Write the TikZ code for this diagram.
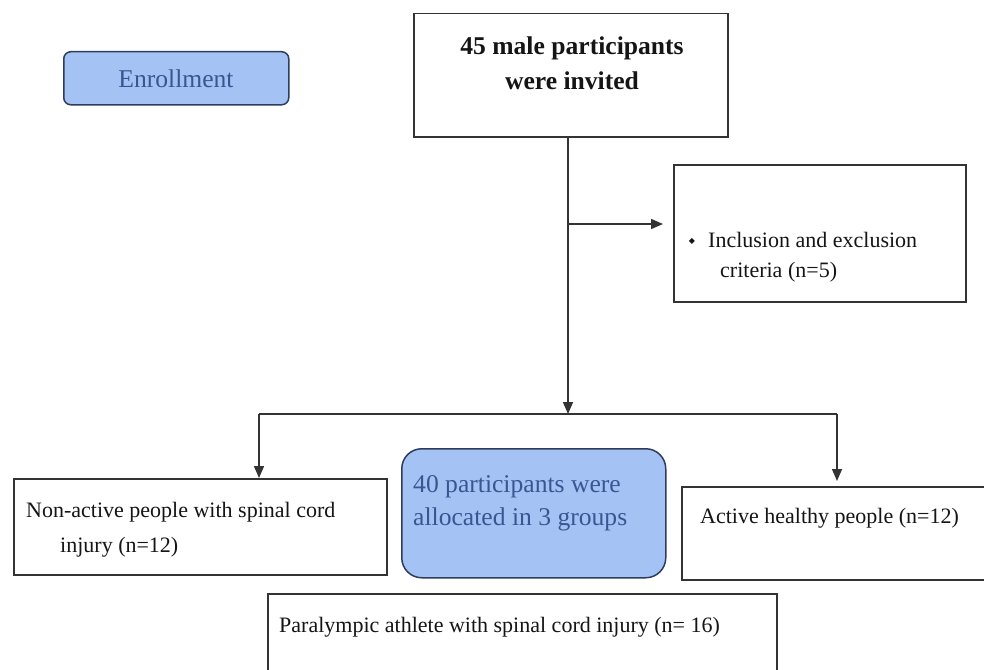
\documentclass[tikz,border=0pt]{standalone}
\usepackage{fontspec}
\setmainfont{Liberation Serif}
\newfontfamily\symfont{DejaVu Sans}
\usetikzlibrary{arrows.meta}
\definecolor{linec}{HTML}{333333}
\definecolor{bluefill}{HTML}{A4C2F4}
\definecolor{blueedge}{HTML}{2F3D5C}
\definecolor{bluetext}{HTML}{3B5592}
\definecolor{txt}{HTML}{151515}
\begin{document}
\begin{tikzpicture}[x=1pt,y=-1pt,
  box/.style={draw=linec, line width=1.5pt, rectangle, inner sep=0pt, anchor=north west},
  bluebox/.style={box, draw=blueedge, fill=bluefill},
  lbl/.style={inner sep=0pt, anchor=base west, text=txt, font=\fontsize{22}{26}\selectfont},
  bluelbl/.style={lbl, text=bluetext, font=\fontsize{25.6}{30}\selectfont},
  boldlbl/.style={inner sep=0pt, anchor=base, text=txt, font=\bfseries\fontsize{25.6}{30}\selectfont},
  arr/.style={draw=linec, line width=1.5pt, -{Triangle[length=12pt,width=10pt]}},
  conn/.style={draw=linec, line width=1.5pt}]
\useasboundingbox (0,0) rectangle (984,669);
\clip (0,0) rectangle (984,669);
\fill[white] (0,0) rectangle (984,669);

% boxes
\node[bluebox, rounded corners=7pt, minimum width=225pt, minimum height=53pt] (enroll) at (63,51) {};
\node[box, minimum width=314pt, minimum height=123pt] (invited) at (413,13) {};
\node[box, minimum width=292pt, minimum height=137pt] (crit) at (673,164) {};
\node[box, minimum width=373pt, minimum height=96pt] (nonactive) at (13,478) {};
\node[bluebox, rounded corners=20pt, minimum width=264pt, minimum height=129pt] (alloc) at (401,448) {};
\node[box, minimum width=320pt, minimum height=93pt] (healthy) at (681,486) {};
\node[box, minimum width=509pt, minimum height=100pt] (para) at (267,593) {};

% texts
\node[bluelbl, anchor=base] (enrollt) at (176,87) {Enrollment};
\node[boldlbl] (inv1) at (572,55) {45 male participants};
\node[boldlbl] (inv2) at (572,89) {were invited};
\node[inner sep=0pt, text=txt, font=\symfont\fontsize{8}{8}\selectfont] (bullet) at (692,241) {◆};
\node[lbl] (crit1) at (708,247) {Inclusion and exclusion};
\node[lbl] (crit2) at (720,277) {criteria (n=5)};
\node[lbl] (non1) at (26,517) {Non-active people with spinal cord};
\node[lbl] (non2) at (60,552) {injury (n=12)};
\node[bluelbl] (all1) at (413,492) {40 participants were};
\node[bluelbl] (all2) at (413,525) {allocated in 3 groups};
\node[lbl] (hea1) at (700,523) {Active healthy people (n=12)};
\node[lbl] (par1) at (279,632) {Paralympic athlete with spinal cord injury (n= 16)};

% connectors
\coordinate (split) at (568,224);
\coordinate (junction) at (568,414);
\coordinate (barL) at (259,414);
\coordinate (barR) at (837,414);
\draw[arr] (invited.south -| junction) -- (junction);
\draw[arr, shorten >=10pt] (split) -- (crit.west |- split);
\draw[conn] (barL) -- (barR);
\draw[arr] (barL) -- (barL |- nonactive.north);
\draw[arr, shorten >=5pt] (barR) -- (barR |- healthy.north);
\end{tikzpicture}
\end{document}
